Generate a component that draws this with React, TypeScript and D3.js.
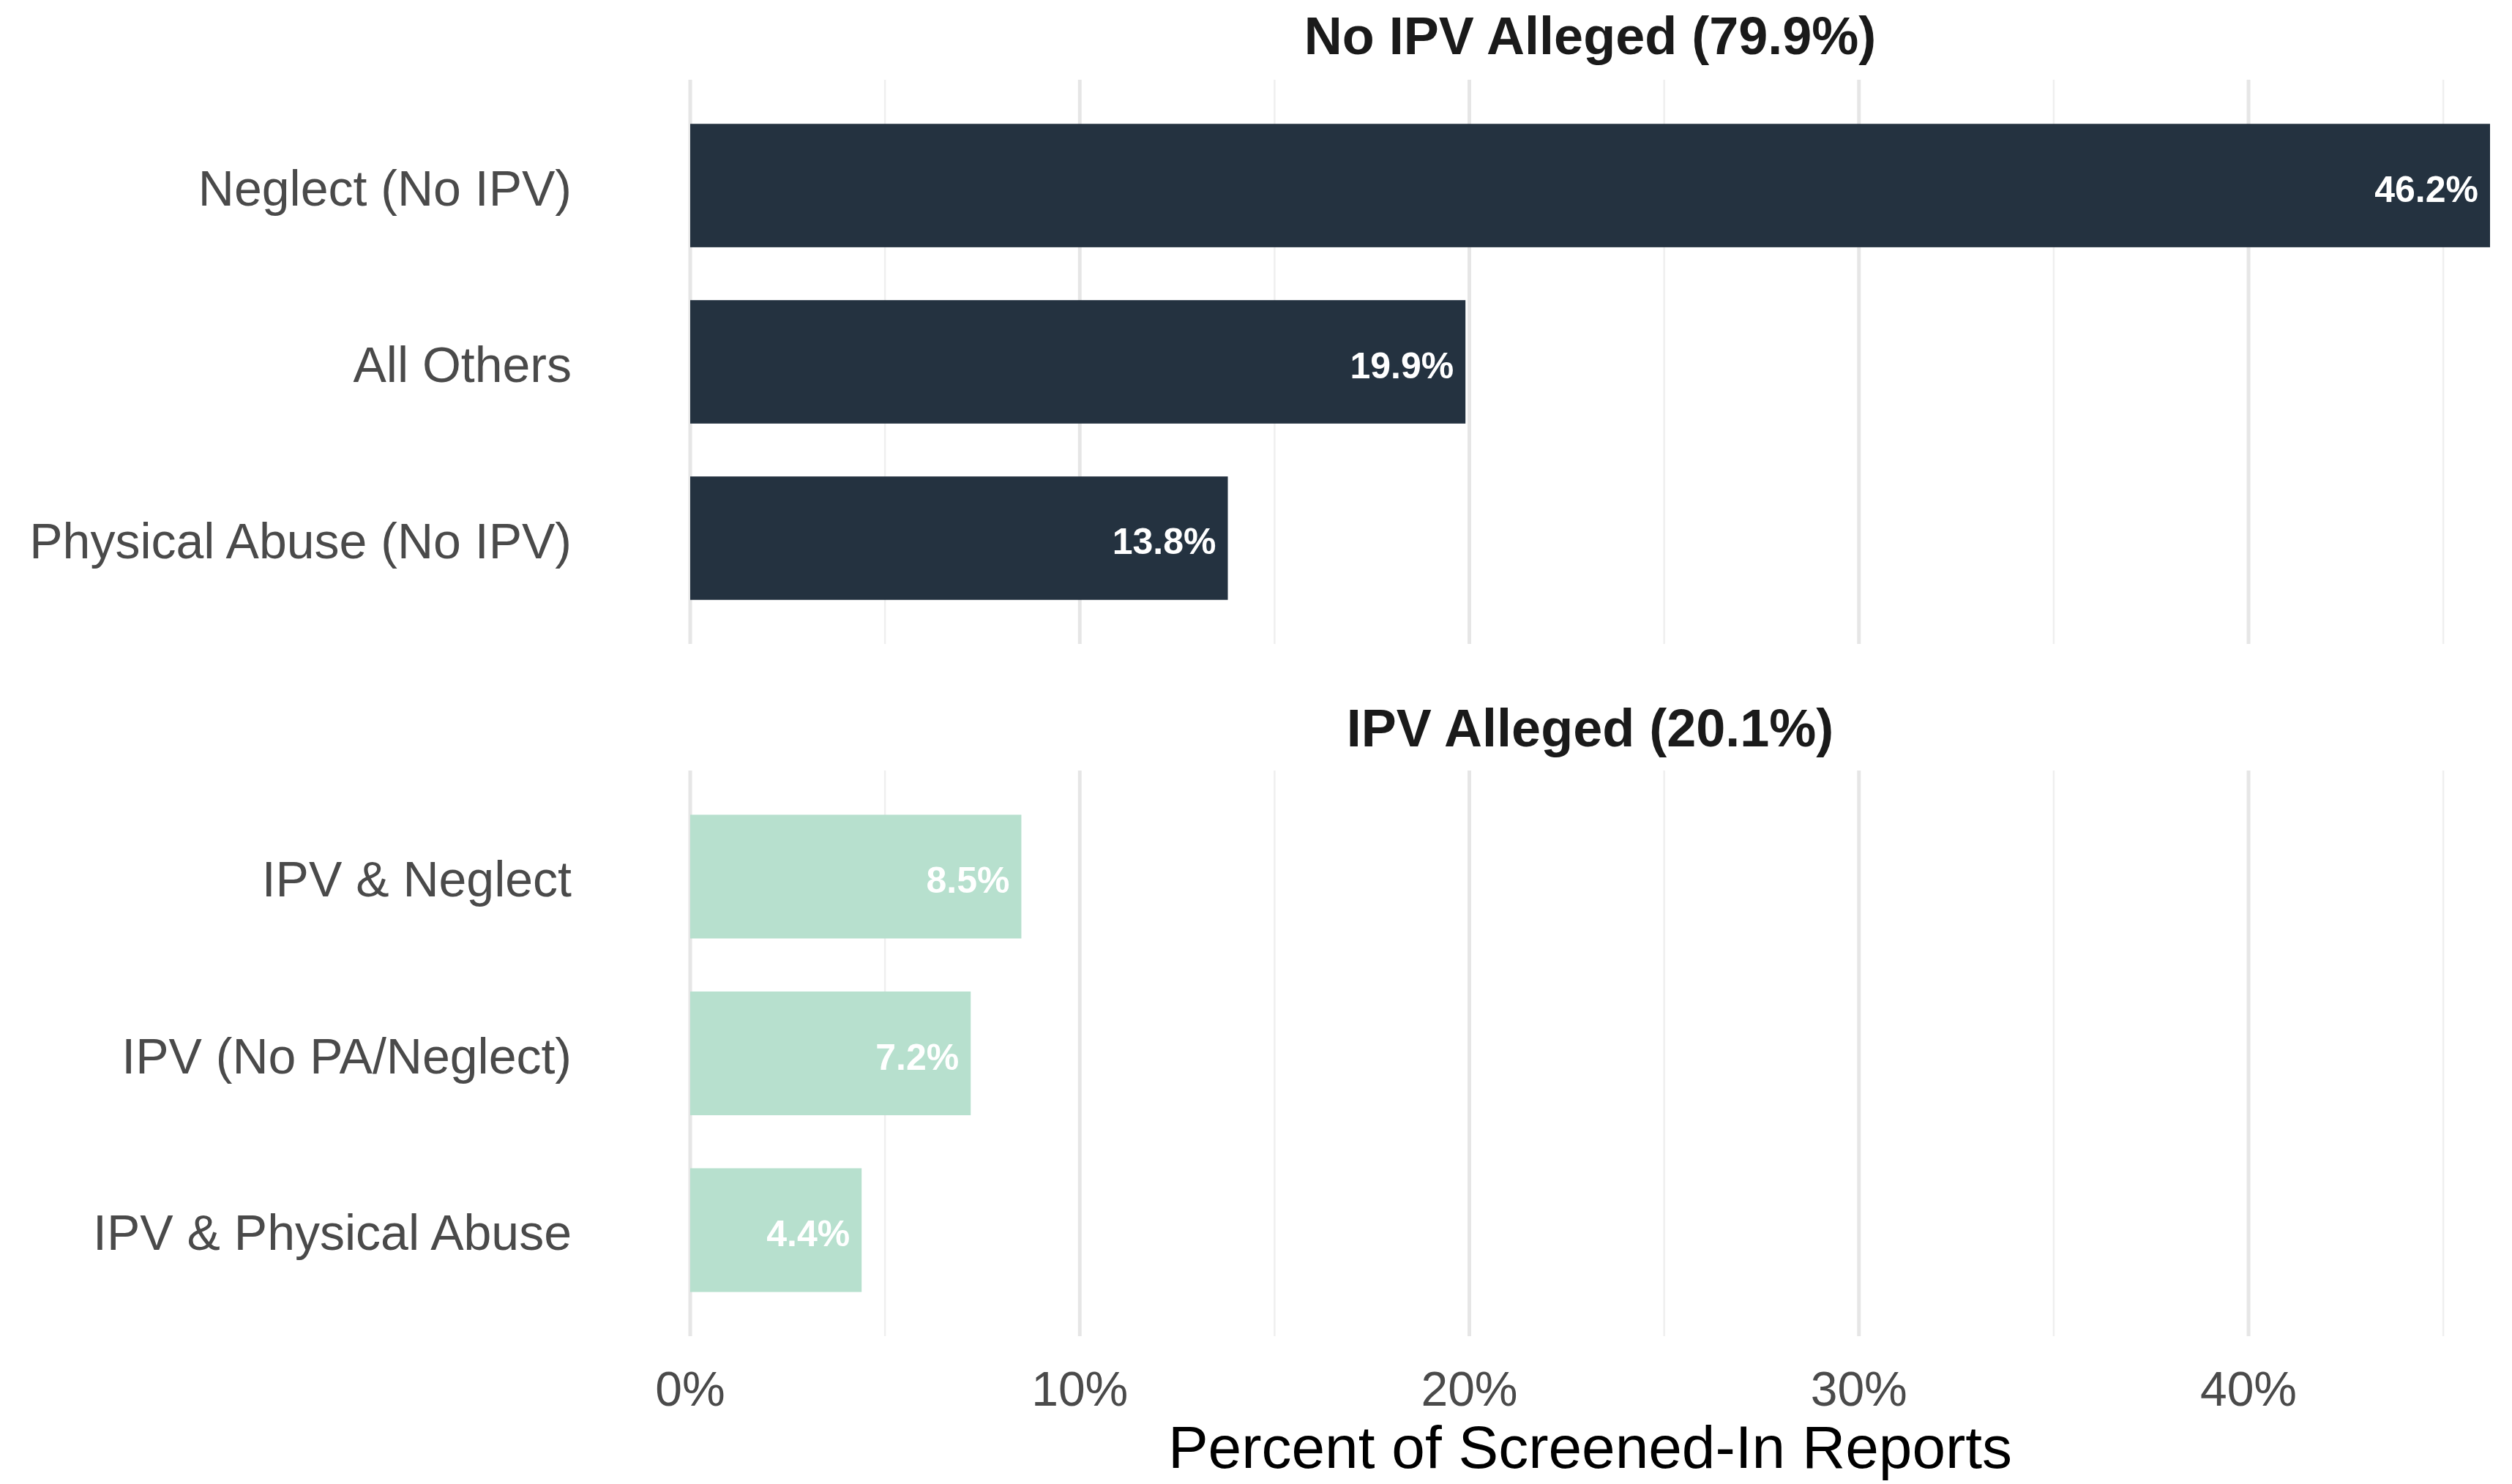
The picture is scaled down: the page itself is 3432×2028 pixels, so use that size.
import React from 'react';
import * as d3 from 'd3';

const panelTitles = ['No IPV Alleged (79.9%)', 'IPV Alleged (20.1%)'];
const noIpvCategories = ['Neglect (No IPV)', 'All Others', 'Physical Abuse (No IPV)'];
const noIpvValues = [46.2, 19.9, 13.8];
const ipvCategories = ['IPV & Neglect', 'IPV (No PA/Neglect)', 'IPV & Physical Abuse'];
const ipvValues = [8.5, 7.2, 4.4];
const xTicks = [0, 10, 20, 30, 40];
const xMinorTicks = [5, 15, 25, 35, 45];
const xTitle = 'Percent of Screened-In Reports';

const W = 3432;
const H = 2028;
const FONT = '"Liberation Sans", Arial, sans-serif';

const x = d3.scaleLinear().domain([0, 46.2]).range([943, 3402]);

const panels = [
  { title: panelTitles[0], cats: noIpvCategories, vals: noIpvValues, top: 109, bottom: 880, titleY: 74, fill: '#243240' },
  { title: panelTitles[1], cats: ipvCategories, vals: ipvValues, top: 1053, bottom: 1826, titleY: 1020, fill: '#b7e0ce' },
];

const Panel: React.FC<{ p: typeof panels[number] }> = ({ p }) => {
  const y = d3.scalePoint<string>().domain(p.cats).range([p.top, p.bottom]).padding(0.6);
  const barH = y.step() * 0.7;
  const [x0, x1] = x.range();
  return (
    <g>
      {xMinorTicks.map(t => (
        <line key={'m' + t} x1={x(t)} x2={x(t)} y1={p.top} y2={p.bottom} stroke="#efefef" strokeWidth={2.5} />
      ))}
      {xTicks.map(t => (
        <line key={'M' + t} x1={x(t)} x2={x(t)} y1={p.top} y2={p.bottom} stroke="#e6e6e6" strokeWidth={5} />
      ))}
      <text x={(x0 + x1) / 2} y={p.titleY} textAnchor="middle" fontFamily={FONT} fontWeight="bold" fontSize={72} fill="#1a1a1a">
        {p.title}
      </text>
      {p.cats.map((c, i) => {
        const cy = y(c) as number;
        return (
          <g key={c}>
            <rect x={x(0)} y={cy - barH / 2} width={x(p.vals[i]) - x(0)} height={barH} fill={p.fill} />
            <text x={x(p.vals[i]) - 16} y={cy} dy="0.44em" textAnchor="end" fontFamily={FONT} fontWeight="bold" fontSize={50} fill="#ffffff">
              {p.vals[i].toFixed(1) + '%'}
            </text>
            <text x={781} y={cy} dy="0.4em" textAnchor="end" fontFamily={FONT} fontSize={68} fill="#4a4a4a">
              {c}
            </text>
          </g>
        );
      })}
    </g>
  );
};

export default function App() {
  const [x0, x1] = x.range();
  return (
    <svg width={W} height={H} style={{ position: 'absolute', left: 0, top: 0, background: '#ffffff' }}>
      <rect width={W} height={H} fill="#ffffff" />
      {panels.map(p => <Panel key={p.title} p={p} />)}
      {xTicks.map(t => (
        <text key={t} x={x(t)} y={1921} textAnchor="middle" fontFamily={FONT} fontSize={66} fill="#4a4a4a">
          {t + '%'}
        </text>
      ))}
      <text x={(x0 + x1) / 2} y={2006} textAnchor="middle" fontFamily={FONT} fontSize={82} fill="#000000">
        {xTitle}
      </text>
    </svg>
  );
}
